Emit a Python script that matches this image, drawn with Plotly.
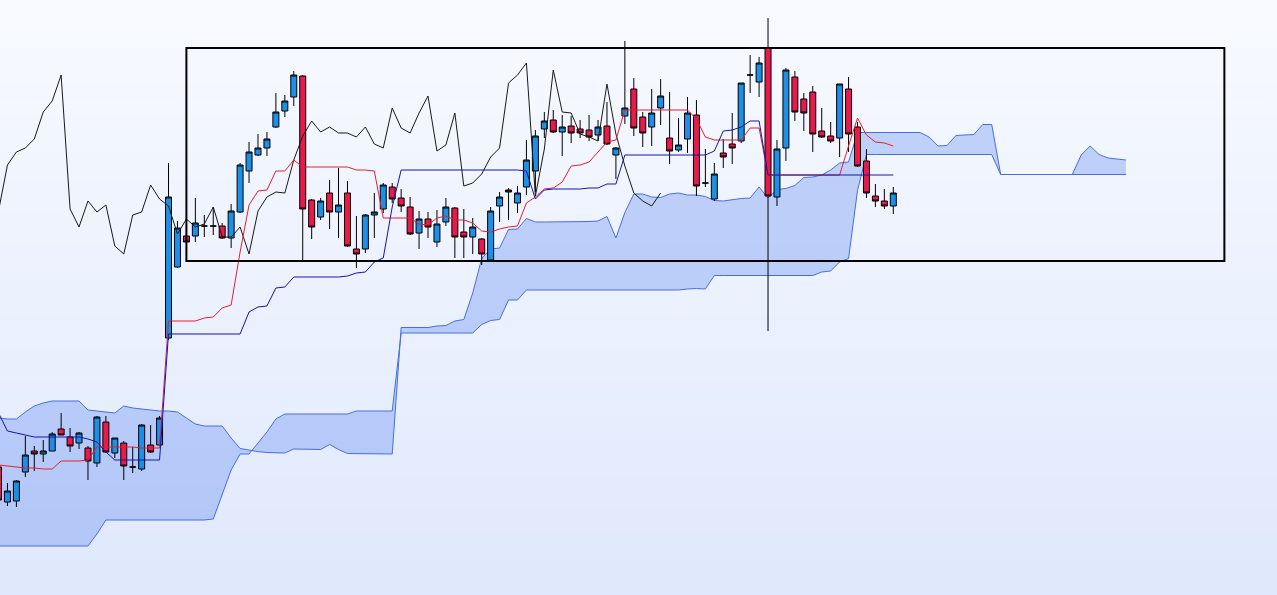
import plotly.graph_objects as go

# ---------------- data (price units) ----------------
opens = [133, 98, 99, 128, 149, 146, 149, 171, 163, 157,
         152, 137, 178, 147, 157, 133, 131, 155, 155, 262,
         333, 364, 364, 374, 374, 374, 362, 388, 429, 445,
         452, 473, 489, 503, 524, 400, 383, 407, 388, 407,
         351, 351, 385, 391, 413, 402, 393, 367, 381, 358,
         378, 392, 368, 363, 361, 340, 394, 410, 397, 413,
         429, 471, 480, 468, 474, 471, 470, 465, 474, 445,
         484, 511, 483, 473, 492, 462, 450, 461, 485, 417,
         401, 447, 456, 459, 525, 518, 552, 403, 452, 523,
         501, 508, 469, 464, 462, 511, 473, 439, 404, 399,
         394]
highs = [138, 117, 120, 164, 154, 160, 168, 187, 172, 168,
         154, 184, 184, 162, 159, 153, 176, 175, 184, 437,
         379, 365, 402, 385, 393, 377, 396, 437, 458, 466,
         468, 507, 505, 529, 525, 401, 402, 420, 432, 419,
         384, 386, 407, 417, 417, 411, 403, 389, 388, 390,
         402, 393, 391, 382, 362, 393, 408, 412, 414, 460,
         470, 488, 490, 485, 484, 480, 485, 480, 498, 453,
         559, 522, 488, 511, 521, 508, 482, 503, 500, 451,
         437, 461, 487, 517, 545, 543, 582, 460, 532, 529,
         507, 514, 492, 478, 516, 523, 478, 451, 416, 411,
         413]
lows = [97, 94, 93, 123, 129, 138, 149, 165, 148, 151,
        120, 133, 147, 142, 120, 127, 129, 147, 154, 260,
        332, 357, 358, 363, 365, 361, 352, 387, 417, 444,
        444, 472, 483, 494, 338, 361, 380, 371, 362, 353,
        332, 347, 362, 387, 397, 388, 365, 351, 362, 353,
        374, 342, 342, 346, 335, 339, 378, 380, 387, 405,
        408, 462, 467, 444, 457, 462, 459, 459, 455, 421,
        476, 464, 453, 454, 475, 436, 448, 447, 404, 413,
        399, 432, 436, 457, 507, 503, 269, 394, 439, 479,
        469, 448, 462, 457, 443, 448, 433, 402, 393, 391,
        386]
closes = [100, 109, 119, 145, 146, 149, 166, 165, 154, 167,
          139, 183, 148, 162, 134, 133, 175, 148, 182, 403,
          372, 358, 377, 374, 374, 362, 389, 435, 448, 452,
          461, 488, 499, 525, 391, 373, 399, 388, 395, 354,
          346, 385, 388, 415, 401, 394, 366, 381, 373, 376,
          393, 363, 363, 373, 346, 389, 403, 408, 407, 440,
          464, 479, 468, 473, 467, 467, 463, 473, 456, 452,
          492, 472, 467, 487, 504, 449, 455, 487, 414, 417,
          426, 443, 452, 517, 525, 537, 404, 451, 530, 488,
          487, 466, 463, 459, 516, 466, 434, 407, 399, 394,
          407]

tenkan = [135, 134, 133, 132, 132, 131, 131, 139, 139, 139,
          140, 153, 153, 153, 153, 153, 152, 152, 152, 279,
          279, 279, 279, 282, 283, 292, 295, 348, 395, 409,
          410, 429, 429, 440, 433, 433, 433, 433, 433, 433,
          430, 430, 429, 382, 382, 382, 382, 376, 375, 382,
          384, 380, 380, 377, 369, 368, 371, 373, 374, 397,
          403, 411, 412, 418, 434, 435, 438, 448, 458, 460,
          490, 490, 490, 490, 490, 490, 490, 490, 481, 463,
          460, 460, 460, 460, 472, 472, 425, 425, 425, 425,
          425, 425, 425, 425, 425, 454, 482, 465, 458, 457,
          454]
kijun = [187, 169, 167, 165, 163, 163, 163, 163, 163, 163,
         161, 158, 148, 140, 140, 140, 140, 140, 140, 266,
         266, 266, 266, 266, 266, 266, 266, 266, 288, 293,
         294, 312, 313, 323, 323, 323, 323, 323, 323, 324,
         327, 328, 338, 342, 393, 430, 430, 430, 430, 430,
         430, 430, 430, 430, 430, 430, 430, 430, 430, 429,
         401, 410, 411, 411, 411, 411, 412, 412, 416, 416,
         445, 445, 445, 445, 445, 445, 445, 445, 445, 445,
         449, 469, 470, 473, 479, 479, 425, 425, 425, 425,
         425, 425, 425, 425, 425, 425, 425, 425, 425, 425,
         425]
span_a = [182, 181, 181, 188, 194, 197, 199, 199, 199, 199,
          190, 189, 188, 187, 194, 192, 191, 190, 189, 189,
          188, 182, 176, 174, 174, 174, 162, 151.5, 150, 148.3,
          147.5, 147, 147, 151, 151, 151, 150.5, 155.5, 150.5, 146.5,
          146.5, 146.5, 146, 146, 146, 272.5, 272.5, 272.5, 272.5, 274,
          274.5, 279, 280.5, 307, 341.5, 351, 352, 370.5, 371, 381.5,
          378, 378, 378, 378, 378, 378.5, 378.5, 379, 383.5, 362,
          387.5, 406, 406, 403, 402.5, 406, 407, 405, 405, 403.5,
          399.5, 399, 400.5, 401.5, 402, 413, 402, 410.5, 411.5, 414.5,
          422.5, 423, 425, 430, 437, 438, 467.5, 467.5, 467.5, 467.5,
          467.5, 467.5, 467.5, 467.5, 463, 454, 454.5, 464.5, 465, 465.5,
          475.5, 475.5, 425.5, 425.5, 425.5, 425.5, 425.5, 425.5, 425.5, 425.5,
          425.5, 445, 454, 445.5, 442, 441, 440]
span_b = [54, 54, 54, 54, 54, 54, 54, 54, 54, 54,
          54, 66, 80, 80, 80, 80, 80, 80, 80, 80,
          80, 80, 80, 80, 81, 105, 130, 146, 146, 157,
          168, 181, 186, 186, 186, 186, 186, 186, 186, 186,
          189, 189, 189, 189, 189, 267, 267, 267, 267, 267,
          267, 267, 267, 267, 275.5, 279.5, 280.5, 300, 300, 310,
          310, 310, 310, 310, 310, 310, 310, 310, 310, 310,
          310, 310, 310, 310, 310, 310, 310, 311, 311.5, 311,
          324.5, 324.5, 324.5, 324.5, 324.5, 324.5, 324.5, 324.5, 324.5, 324.5,
          324.5, 324.5, 328, 329, 338, 341.5, 409.5, 445.5, 445.5, 445.5,
          445.5, 445.5, 445.5, 445.5, 445.5, 445.5, 445.5, 445.5, 445.5, 445.5,
          445.5, 445.5, 425.5, 425.5, 425.5, 425.5, 425.5, 425.5, 425.5, 425.5,
          425.5, 425.5, 425.5, 425.5, 425.5, 425.5, 425.5]
CHIKOU_SHIFT = 26
box_zone = dict(start=21, end=137, low=339, high=552)

# ---------------- styling ----------------
BLUE = "#1e8fe6"
RED = "#e8194b"
CLOUD_LINE = "rgb(70,110,228)"
CLOUD_FILL = "rgba(100,140,240,0.36)"
TENKAN_C = "rgb(232,30,45)"
KIJUN_C = "rgb(20,20,175)"
CHIKOU_C = "rgb(25,25,25)"
BG_TOP = (248, 250, 255)
BG_BOTTOM = (223, 232, 252)

n = len(closes)
idx = list(range(n))
cloud_x = list(range(len(span_a)))
chikou_x = idx[:n - CHIKOU_SHIFT]
chikou_y = closes[CHIKOU_SHIFT:]

fig = go.Figure()

# cloud (bottom subplot layer)
fig.add_trace(go.Scatter(x=cloud_x, y=span_b, mode="lines",
                         line=dict(color=CLOUD_LINE, width=1),
                         hoverinfo="skip", showlegend=False))
fig.add_trace(go.Scatter(x=cloud_x, y=span_a, mode="lines", fill="tonexty",
                         fillcolor=CLOUD_FILL,
                         line=dict(color=CLOUD_LINE, width=1),
                         hoverinfo="skip", showlegend=False))

# candles (overlay subplot, above the cloud)
fig.add_trace(go.Candlestick(
    x=idx, open=opens, high=highs, low=lows, close=closes,
    increasing=dict(line=dict(color="black", width=1), fillcolor=BLUE),
    decreasing=dict(line=dict(color="black", width=1), fillcolor=RED),
    whiskerwidth=0, hoverinfo="skip", showlegend=False,
    xaxis="x2", yaxis="y2"))

# indicator lines (overlay subplot)
fig.add_trace(go.Scatter(x=chikou_x, y=chikou_y, mode="lines",
                         line=dict(color=CHIKOU_C, width=1),
                         hoverinfo="skip", showlegend=False,
                         xaxis="x2", yaxis="y2"))
fig.add_trace(go.Scatter(x=idx, y=tenkan, mode="lines",
                         line=dict(color=TENKAN_C, width=1),
                         hoverinfo="skip", showlegend=False,
                         xaxis="x2", yaxis="y2"))
fig.add_trace(go.Scatter(x=idx, y=kijun, mode="lines",
                         line=dict(color=KIJUN_C, width=1),
                         hoverinfo="skip", showlegend=False,
                         xaxis="x2", yaxis="y2"))

# background gradient
N = 70
for k in range(N):
    t = (k + 0.5) / N
    c = tuple(round(BG_TOP[j] + (BG_BOTTOM[j] - BG_TOP[j]) * t) for j in range(3))
    fig.add_shape(type="rect", xref="paper", yref="paper", x0=0, x1=1,
                  y0=1 - (k + 1) / N, y1=1 - k / N + 0.002,
                  fillcolor="rgb(%d,%d,%d)" % c, line_width=0, layer="below")

# drawn rectangle
fig.add_shape(type="rect", xref="x", yref="y",
              x0=box_zone["start"], x1=box_zone["end"],
              y0=box_zone["low"], y1=box_zone["high"],
              line=dict(color="black", width=2), fillcolor="rgba(0,0,0,0)",
              layer="above")

STEP = 8.948
XR = [1.5 / STEP, 1278.5 / STEP]
YR = [5, 600]
fig.update_layout(
    width=1277, height=595,
    margin=dict(l=0, r=0, t=0, b=0),
    paper_bgcolor="rgb(%d,%d,%d)" % BG_TOP,
    plot_bgcolor="rgba(0,0,0,0)",
    boxgap=0.33, boxgroupgap=0,
    xaxis=dict(range=XR, visible=False, showgrid=False, zeroline=False,
               rangeslider=dict(visible=False)),
    yaxis=dict(range=YR, visible=False, showgrid=False, zeroline=False),
    xaxis2=dict(range=XR, visible=False, showgrid=False, zeroline=False,
                overlaying="x", rangeslider=dict(visible=False)),
    yaxis2=dict(range=YR, visible=False, showgrid=False, zeroline=False,
                overlaying="y"),
    showlegend=False,
    hovermode=False,
)

fig.write_html("out.html", config={"displayModeBar": False, "staticPlot": True},
               post_script="document.body.style.margin='0';document.body.style.overflow='hidden';")
